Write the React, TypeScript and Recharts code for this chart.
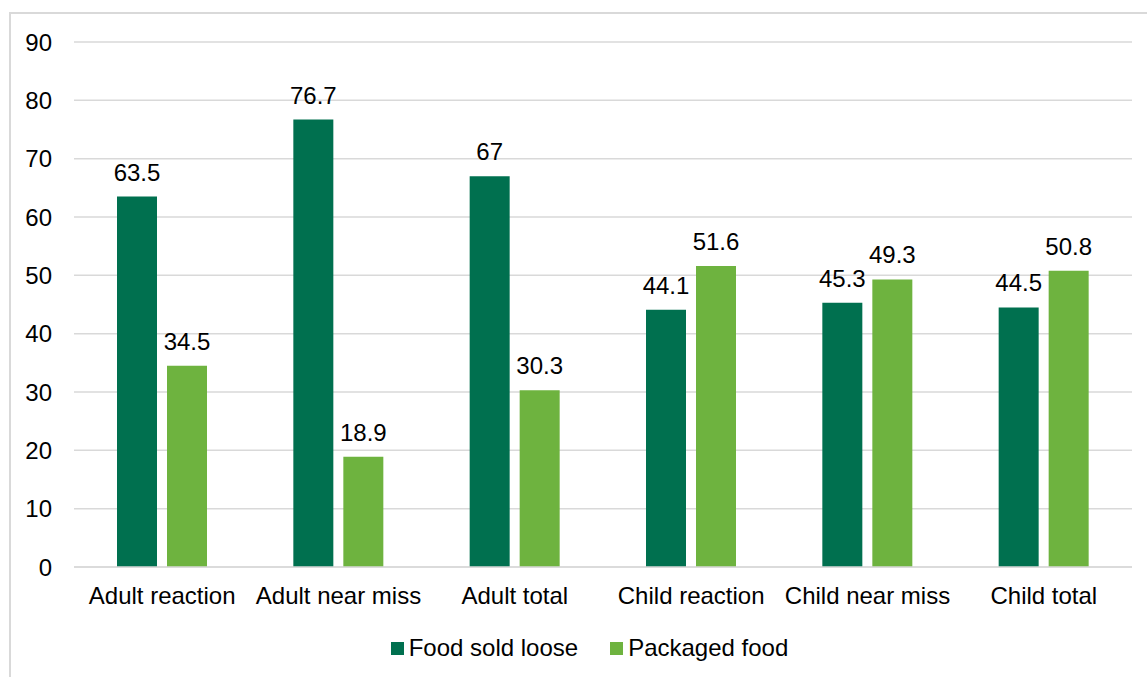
import React from 'react';
import {
  BarChart,
  Bar,
  XAxis,
  YAxis,
  CartesianGrid,
  Legend,
  LabelList
} from 'recharts';

// カテゴリとシリーズの値
const categories = [
  'Adult reaction',
  'Adult near miss',
  'Adult total',
  'Child reaction',
  'Child near miss',
  'Child total'
];
const looseValues = [63.5, 76.7, 67, 44.1, 45.3, 44.5];
const packagedValues = [34.5, 18.9, 30.3, 51.6, 49.3, 50.8];
const yTicks = [0, 10, 20, 30, 40, 50, 60, 70, 80, 90];

const SERIES = [
  { key: 'loose', name: 'Food sold loose', color: '#00704F' },
  { key: 'packaged', name: 'Packaged food', color: '#6EB33F' }
];

const FONT = 'Arial, "Liberation Sans", sans-serif';

const data = categories.map((name, i) => ({
  name,
  loose: looseValues[i],
  packaged: packagedValues[i]
}));

// 凡例
const renderLegend = (props: any) => {
  const { payload } = props;
  return (
    <div
      style={{
        display: 'flex',
        justifyContent: 'center',
        alignItems: 'center',
        gap: 32,
        paddingLeft: 32,
        fontFamily: FONT,
        fontSize: 24,
        color: '#000'
      }}
    >
      {payload.map((entry: any) => (
        <div key={entry.value} style={{ display: 'flex', alignItems: 'center' }}>
          <span
            style={{
              display: 'inline-block',
              width: 13,
              height: 13,
              background: entry.color,
              marginRight: 5
            }}
          />
          <span>{entry.value}</span>
        </div>
      ))}
    </div>
  );
};

const App: React.FC = () => {
  return (
    <div
      style={{
        position: 'absolute',
        left: 0,
        top: 0,
        width: 1147,
        height: 677,
        overflow: 'hidden',
        background: '#fff'
      }}
    >
      {/* 外枠 */}
      <div
        style={{
          position: 'absolute',
          left: 9,
          top: 12,
          width: 1200,
          height: 700,
          border: '2px solid #d9d9d9',
          boxSizing: 'border-box'
        }}
      />
      <div style={{ position: 'absolute', left: 0, top: 0 }}>
        <BarChart
          width={1147}
          height={677}
          data={data}
          margin={{ top: 42, right: 15, bottom: 32, left: 0 }}
          barSize={40}
          barGap={10}
        >
          <CartesianGrid vertical={false} stroke="#d9d9d9" strokeWidth={1.5} />
          <XAxis
            dataKey="name"
            axisLine={{ stroke: '#d9d9d9', strokeWidth: 1.5 }}
            tickLine={false}
            tickMargin={14}
            height={50}
            interval={0}
            tick={{ fill: '#000', fontSize: 24, fontFamily: FONT }}
          />
          <YAxis
            domain={[0, 90]}
            ticks={yTicks}
            width={74}
            axisLine={false}
            tickLine={false}
            tickMargin={16}
            tick={{ fill: '#000', fontSize: 24, fontFamily: FONT }}
          />
          <Legend
            content={renderLegend}
            verticalAlign="bottom"
            wrapperStyle={{ top: 634, left: 0, width: 1147 }}
          />
          {SERIES.map(s => (
            <Bar
              key={s.key}
              dataKey={s.key}
              name={s.name}
              fill={s.color}
              isAnimationActive={false}
            >
              <LabelList
                dataKey={s.key}
                position="top"
                offset={16}
                fill="#000"
                fontSize={24}
                fontFamily={FONT}
              />
            </Bar>
          ))}
        </BarChart>
      </div>
    </div>
  );
};

export default App;
